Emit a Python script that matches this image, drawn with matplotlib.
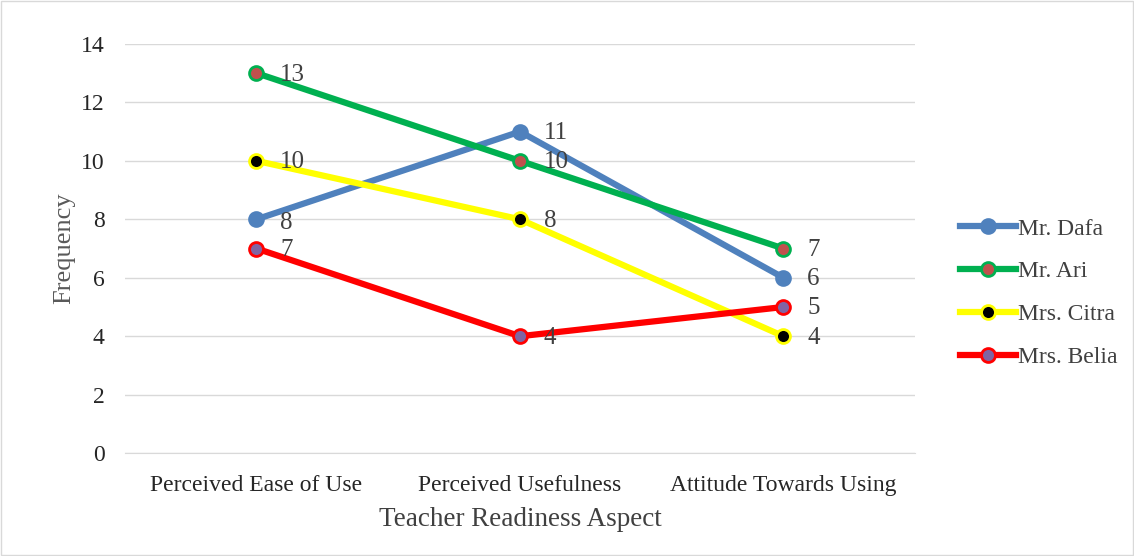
import matplotlib
matplotlib.use("Agg")
import matplotlib.pyplot as plt
from matplotlib.lines import Line2D

categories = ["Perceived Ease of Use", "Perceived Usefulness", "Attitude Towards Using"]
series_names = ["Mr. Dafa", "Mr. Ari", "Mrs. Citra", "Mrs. Belia"]
dafa = [8, 11, 6]
ari = [13, 10, 7]
citra = [10, 8, 4]
belia = [7, 4, 5]
values = [dafa, ari, citra, belia]
line_colors = ["#4f81bd", "#00b050", "#ffff00", "#ff0000"]
marker_faces = ["#4f81bd", "#c0504d", "#000000", "#8064a2"]
yticks = [0, 2, 4, 6, 8, 10, 12, 14]

plt.rcParams['font.family'] = ['Liberation Serif', 'DejaVu Serif']
txt = "#404040"
tick_col = "#262626"

fig = plt.figure(figsize=(11.34, 5.56), dpi=100)
fig.patches.append(plt.Rectangle((0.001, 0.001), 0.998, 0.997, transform=fig.transFigure,
                                 fill=False, edgecolor="#d9d9d9", linewidth=1))
ax = fig.add_axes([0.110, 0.185, 0.697, 0.736])

x = list(range(len(categories)))
handles = []
for name, vals, lc, mf in zip(series_names, values, line_colors, marker_faces):
    ax.plot(x, vals, color=lc, linewidth=4.5, marker='o', markersize=10,
            markerfacecolor=mf, markeredgecolor=lc, markeredgewidth=2, zorder=3)
    handles.append(Line2D([0], [0], color=lc, linewidth=4.5, marker='o', markersize=10,
                          markerfacecolor=mf, markeredgecolor=lc, markeredgewidth=2))
    for xi, v in zip(x, vals):
        dy = -0.12 if name == "Mr. Dafa" and xi == 0 else -0.05
        ax.annotate(str(v), (xi, v + dy), xytext=(17, 0), textcoords='offset points',
                    ha='left', va='center', fontsize=18, color=txt, zorder=4)

ax.set_xlim(-0.5, 2.5)
ax.set_ylim(0, 14)
ax.set_yticks(yticks)
ax.set_xticks(x)
ax.set_xticklabels(categories)
ax.grid(axis='y', color="#d9d9d9", linewidth=1)
ax.set_axisbelow(True)
for s in ['top', 'right', 'left']:
    ax.spines[s].set_visible(False)
ax.spines['bottom'].set_color("#d9d9d9")
ax.tick_params(axis='both', length=0, labelsize=17, colors=tick_col)
ax.tick_params(axis='x', pad=16)
ax.tick_params(axis='y', pad=14.5)
ax.set_xlabel("Teacher Readiness Aspect", fontsize=19.5, color=txt, labelpad=8)
ax.set_ylabel("Frequency", fontsize=19, color="#595959", labelpad=4)

fig.legend(handles, series_names, loc='center left', bbox_to_anchor=(0.828, 0.473),
           frameon=False, fontsize=17, labelcolor=txt, handlelength=2.35,
           labelspacing=0.9, handletextpad=0.1)

fig.savefig("out.png", dpi=100)
